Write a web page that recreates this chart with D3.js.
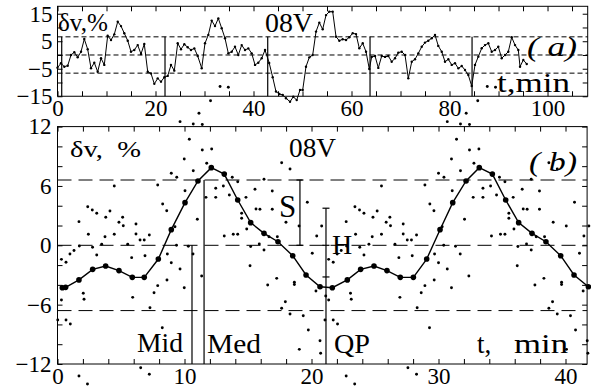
<!DOCTYPE html>
<html><head><meta charset="utf-8">
<script src="https://cdn.jsdelivr.net/npm/d3@7"></script>
<style>
body{margin:0;background:#fff}
svg text{font-family:"Liberation Serif","Times New Roman",serif;fill:#000}
</style>
</head><body>
<svg id="c" width="591" height="392"></svg>
<script>
// ---------- DATA ----------
// (a) raw time series, t in min, dv in %
const topT = [0,0.71,1.39,2.08,2.76,3.43,4.12,4.80,5.47,6.16,6.84,7.51,8.20,8.88,9.55,10.24,10.92,11.59,12.29,12.96,
 13.63,14.33,15.0,15.67,16.37,17.04,17.71,18.41,19.08,19.76,20.45,21.12,21.80,22.49,23.16,23.84,24.53,25.20,25.88,26.57,
 27.24,27.92,28.61,29.43,30.10,30.78,31.47,32.14,32.82,33.51,
 34.18,34.86,35.55,36.22,36.90,37.59,38.27,38.94,39.63,40.31,40.98,41.67,42.35,
 43.2,43.92,44.59,45.27,45.96,46.63,47.45,48.12,48.82,49.49,50.04,50.71,51.39,52.08,52.76,53.43,54.12,54.80,55.47,56.16,
 56.84,57.51,58.2,58.88,59.55,60.24,60.92,61.59,62.29,62.96,63.63,
 64.12,64.80,65.47,66.16,66.84,67.51,68.20,68.88,69.55,70.24,70.92,71.59,72.29,72.96,73.63,74.33,75.0,75.67,76.37,77.04,
 77.71,78.41,79.08,79.76,80.45,81.12,81.80,82.49,83.16,83.84,84.53,
 85.2,85.88,86.57,87.24,87.92,88.61,89.29,89.96,90.65,91.33,92.0,92.69,93.37,94.04,94.39,95.06,95.76];
const topV = [-4.6,-3.0,-4.25,-3.9,0.0,1.0,-0.85,1.2,5.8,2.1,-4.8,-2.8,-6.1,-1.2,-3.6,7.0,5.45,7.5,12.1,10.5,
 7.9,5.2,1.2,1.8,3.6,0.36,4.0,-6.1,-6.7,-10.5,-8.5,-9.7,-8.1,-7.6,-3.6,-5.7,4.25,2.1,3.9,2.8,
 1.8,2.4,-0.36,-4.8,4.25,7.3,12.5,10.5,13.3,9.7,
 6.1,0.6,1.2,3.0,0.0,3.6,1.8,2.4,0.6,-3.6,-2.8,-1.2,1.8,
 -2.9,-8.1,-13.3,-14.2,-14.5,-15.7,-17.0,-15.2,-16.4,-12.7,-12.7,-4.25,-0.85,0.0,8.5,11.75,9.35,14.5,15.75,15.75,
 6.65,5.2,5.7,5.45,6.45,7.9,7.6,2.45,4.25,1.2,-5.1,
 -0.7,-0.36,-4.7,-0.36,-0.7,-0.36,-2.45,-1.2,0.85,1.2,0.0,-8.5,-2.45,-1.55,0.6,3.0,4.5,5.2,6.1,7.3,
 3.3,1.2,-2.45,-1.55,-3.6,-3.0,-4.85,-4.0,-5.45,-7.3,-11.3,
 -3.6,-0.6,2.45,3.6,4.25,1.2,1.8,3.0,-1.2,0.0,1.2,6.45,3.6,1.8,-4.25,-1.8,-3.3];
const cycleStarts = [0.86, 21.94, 42.9, 63.78, 84.6];   // vertical lines in (a)

// (b) superposed epoch: folded points (phase, dv), shown over two cycles
const foldPeriod = 21.04;
const cycleCopies = [0, 1];
const scatterPhase = [9.65,10.69,11.14,11.40,12.05,12.80,13.45,10.38,9.98,10.69,8.96,9.39,4.47,7.89,10.04,8.28,8.60,2.38,2.74,3.09,
 4.13,3.80,1.69,5.13,4.84,5.18,6.18,2.43,3.74,4.47,6.18,7.23,6.50,6.83,9.25,1.72,2.76,3.48,5.53,9.37,
 10.30,0.31,0.67,0.98,1.30,3.09,5.84,6.89,8.65,8.96,9.65,9.98,8.62,7.89,7.60,0.31,2.03,2.09,5.92,7.28,
 0.02,0.67,1.01,8.25,6.55,7.23,1.69,2.36,10.67,11.35,15.21,15.89,16.26,15.16,16.55,17.26,18.65,18.65,20.06,20.35,
 17.94,17.65,18.31,19.35,19.75,19.04,20.67,20.72,21.12,11.40,12.14,11.75,13.76,14.19,16.26,17.65,18.31,12.46,13.06,15.55,
 16.91,11.69,12.46,13.53,14.84,19.67,15.63,15.94,16.91,14.50,14.50,11.01,17.99,14.90,19.02,20.41,13.13,13.84,14.19,16.65,
 17.31,20.80];
const scatterValue = [12.50,12.26,13.35,12.21,14.62,16.06,15.98,10.72,8.73,7.53,7.28,6.88,6.0,6.10,5.52,4.18,3.50,3.90,3.57,3.24,
 3.47,2.83,2.39,2.83,2.33,1.98,2.15,1.11,0.87,1.11,1.14,1.04,0.54,0.54,1.88,-0.07,-0.20,0.10,0.10,0.0,
 -0.1,-1.42,-1.72,-0.88,-0.53,-0.98,-1.25,-1.05,-0.88,-1.76,-2.40,-4.29,-3.51,-4.08,-4.79,-5.53,-4.85,-5.46,-5.26,-6.31,
 -7.55,-7.55,-7.96,-8.33,-12.38,-13.04,-13.22,-14.02,-0.88,-3.10,-0.12,0.13,-0.48,-2.06,-4.01,-3.34,-3.74,-3.96,-0.81,-4.62,
 -5.70,-6.37,-6.95,-7.12,-8.56,-10.52,-9.65,-10.92,-5.13,9.64,9.74,8.29,6.88,6.43,6.67,8.35,7.71,5.76,6.0,5.66,
 5.49,4.85,4.85,5.09,4.85,4.35,3.67,3.64,3.64,3.24,2.73,2.63,2.33,1.65,1.95,0.94,0.94,1.11,1.11,0.87,
 0.87,1.95];
// mean profile
const curveT = [0.38,0.64,1.69,2.77,3.79,4.84,5.89,6.83,7.94,8.96,10.04,11.06,12.11,13.13,14.19,15.21,16.26,17.36,18.52,19.57,
 20.67,21.64,22.82,23.87,24.92,25.94,26.99,28.02,29.07,30.12,31.12,32.17,33.21,34.24,35.29,36.31,37.36,38.46,39.62,40.67,41.8];
const curveV = [-4.29,-4.25,-3.5,-2.43,-2.09,-2.56,-3.24,-3.24,-1.39,1.58,4.31,6.5,7.85,7.2,4.58,2.29,1.21,0.36,-1.05,-3.0,
 -4.19,-4.29,-3.5,-2.43,-2.09,-2.56,-3.24,-3.24,-1.39,1.58,4.31,6.5,7.85,7.2,4.58,2.29,1.21,0.36,-1.05,-3.0,-4.19];
const levels = [6.6, 0, -6.6];
// annotation markers in (b)
const markerT = [10.59, 11.54, 19.09, 21.14];
const markerFrom = [0, 6.6, 6.6, 3.75];
const markerTo = [-12, -12, 0, -12];
const sTicks = [6.6, 0];
const hTicks = [3.75, 0, -3.2];

// tick values
const topXTicks = d3.range(0, 106, 5), topXLabels = [0,20,40,60,80,100];
const topYTicks = [-15,-10,-5,0,5,10,15], topYLabels = [-15,-5,5,15];
const botXTicks = d3.range(0, 41, 2), botXLabels = [0,10,20,30,40];
const botYTicks = d3.range(-12, 13, 2), botYLabels = [-12,-6,0,6,12];

// ---------- DRAW ----------
const svg = d3.select("#c");
const FONT = "Liberation Serif";
const xa = d3.scaleLinear().domain([0,108.2]).range([57.5,587.7]);
const ya = d3.scaleLinear().domain([-15,17.7]).range([96.25,6.3]);
const xb = d3.scaleLinear().domain([0,41.7]).range([57.5,587.1]);
const yb = d3.scaleLinear().domain([-12,12]).range([364,126.6]);
const fmt = d => d < 0 ? "\u2212" + Math.abs(d) : String(d);

function panel(x, y, xt, xl, yt, yl, xPad, yPad){
  const [x0,x1] = x.range(), [y0,y1] = y.range();
  const noDom = g => g.select(".domain").remove();
  svg.append("g").attr("transform",`translate(0,${y0})`)
    .call(d3.axisBottom(x).tickValues(xt).tickSize(-5).tickFormat("")).call(noDom);
  svg.append("g").attr("transform",`translate(0,${y1})`)
    .call(d3.axisTop(x).tickValues(xt).tickSize(-5).tickFormat("")).call(noDom);
  svg.append("g").attr("transform",`translate(${x0},0)`)
    .call(d3.axisLeft(y).tickValues(yt).tickSize(-5).tickFormat("")).call(noDom);
  svg.append("g").attr("transform",`translate(${x1},0)`)
    .call(d3.axisRight(y).tickValues(yt).tickSize(-5).tickFormat("")).call(noDom);
  const lx = svg.append("g").attr("transform",`translate(0,${y0})`)
    .call(d3.axisBottom(x).tickValues(xl).tickSize(0).tickPadding(xPad).tickFormat(fmt)).call(noDom);
  lx.attr("font-size",23).attr("font-family",FONT);
  const ly = svg.append("g").attr("transform",`translate(${x0},0)`)
    .call(d3.axisLeft(y).tickValues(yl).tickSize(0).tickPadding(yPad).tickFormat(fmt)).call(noDom);
  ly.attr("font-size",23).attr("font-family",FONT);
  svg.append("rect").attr("x",x0).attr("y",y1).attr("width",x1-x0).attr("height",y0-y1)
    .attr("fill","none").attr("stroke","#000").attr("stroke-width",1);
}

// ----- panel (a)
panel(xa, ya, topXTicks, topXLabels, topYTicks, topYLabels, 3, 5);
svg.append("g").selectAll("line").data(levels).join("line")
  .attr("x1",xa(0)).attr("x2",xa.range()[1]).attr("y1",d=>ya(d)).attr("y2",d=>ya(d))
  .attr("stroke","#000").attr("stroke-width",1).attr("stroke-dasharray","5,3");
svg.append("g").selectAll("line").data(cycleStarts).join("line")
  .attr("x1",d=>xa(d)).attr("x2",d=>xa(d)).attr("y1",ya(6.6)).attr("y2",ya(-15))
  .attr("stroke","#000").attr("stroke-width",1.2);
const topPts = topT.map((t,i)=>[t, topV[i]]);
svg.append("path").datum(topPts)
  .attr("d", d3.line().x(d=>xa(d[0])).y(d=>ya(d[1])))
  .attr("fill","none").attr("stroke","#000").attr("stroke-width",1);
svg.append("g").selectAll("circle").data(topPts).join("circle")
  .attr("cx",d=>xa(d[0])).attr("cy",d=>ya(d[1])).attr("r",1.2).attr("fill","#000");

// ----- panel (b)
panel(xb, yb, botXTicks, botXLabels, botYTicks, botYLabels, 4, 6);
svg.append("g").selectAll("line").data(levels).join("line")
  .attr("x1",xb(0)).attr("x2",xb.range()[1]).attr("y1",d=>yb(d)).attr("y2",d=>yb(d))
  .attr("stroke","#000").attr("stroke-width",1).attr("stroke-dasharray","14,7");
const scat = [];
cycleCopies.forEach(c => scatterPhase.forEach((p,i) => scat.push([p + c*foldPeriod, scatterValue[i]])));
svg.append("g").selectAll("circle").data(scat.filter(d=>d[0] <= 42.2)).join("circle")
  .attr("cx",d=>xb(d[0])).attr("cy",d=>yb(d[1])).attr("r",1.45).attr("fill","#000");
const cPts = curveT.map((t,i)=>[t, curveV[i]]);
svg.append("path").datum(cPts)
  .attr("d", d3.line().x(d=>xb(d[0])).y(d=>yb(d[1])))
  .attr("fill","none").attr("stroke","#000").attr("stroke-width",1.4);
svg.append("g").selectAll("circle").data(cPts).join("circle")
  .attr("cx",d=>xb(d[0])).attr("cy",d=>yb(d[1])).attr("r",2.8).attr("fill","#000");

// marker lines
svg.append("g").selectAll("line").data(markerT).join("line")
  .attr("x1",d=>xb(d)).attr("x2",d=>xb(d))
  .attr("y1",(d,i)=>yb(markerFrom[i])).attr("y2",(d,i)=>yb(markerTo[i]))
  .attr("stroke","#000").attr("stroke-width",1.2);
svg.append("g").selectAll("line").data(sTicks).join("line")
  .attr("x1",xb(markerT[2])-3.5).attr("x2",xb(markerT[2])+3.5)
  .attr("y1",d=>yb(d)).attr("y2",d=>yb(d)).attr("stroke","#000").attr("stroke-width",1.2);
svg.append("g").selectAll("line").data(hTicks).join("line")
  .attr("x1",xb(markerT[3])-3.5).attr("x2",xb(markerT[3])+3.5)
  .attr("y1",d=>yb(d)).attr("y2",d=>yb(d)).attr("stroke","#000").attr("stroke-width",1.2);

// ----- texts
function txt(s, x, y, size, italic, w){
  const t = svg.append("text").attr("x",x).attr("y",y).attr("font-size",size)
    .attr("xml:space","preserve").style("white-space","pre").text(s);
  if (italic) t.attr("font-style","italic");
  if (w) t.attr("textLength",w).attr("lengthAdjust","spacingAndGlyphs");
  return t;
}
txt("δv,%", 58, 31, 25, false, 50);
txt("08V", 265, 31.5, 27, false, 48);
txt("( a)", 527, 56, 28, true, 50);
txt("t,min", 497, 91.5, 27, false, 73);

txt("δv,  %", 70, 157, 24, false, 71);
txt("08V", 289, 157, 27, false, 47);
txt("( b)", 529, 171, 28, true, 48);
txt("S", 279, 217, 31);
txt("H", 332, 254, 28);
txt("Mid", 137, 352, 27, false, 46);
txt("Med", 207, 353, 27, false, 54);
txt("QP", 334, 353, 27, false, 36);
txt("t,", 477, 353, 27);
txt("min", 514, 353, 27, false, 54);
</script>
</body></html>
